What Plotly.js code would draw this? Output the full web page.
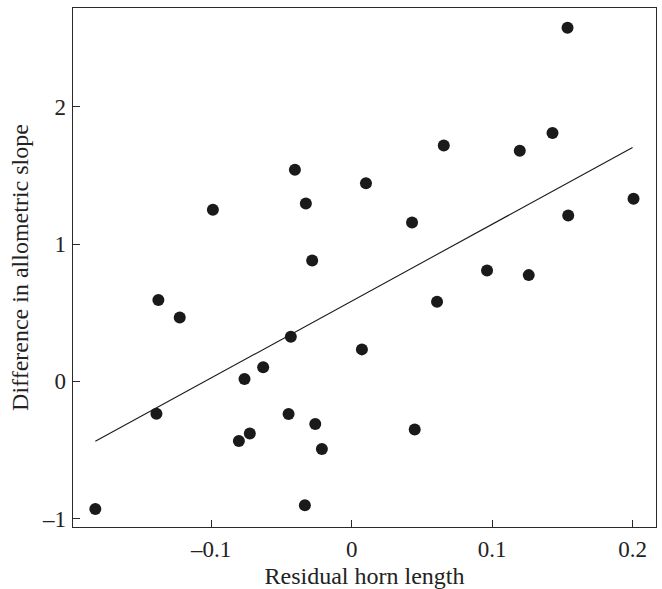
<!DOCTYPE html>
<html>
<head>
<meta charset="utf-8">
<script src="https://cdn.plot.ly/plotly-3.0.1.min.js"></script>
<style>html,body{margin:0;padding:0;background:#fff;}#chart{width:662px;height:589px;}</style>
</head>
<body>
<div id="chart"></div>
<script>
// Data
const hornLength = [-0.1825, -0.1390, -0.1376, -0.1224, -0.0988, -0.0803, -0.0725, -0.0763, -0.0630, -0.0433,
  -0.0449, -0.0404, -0.0326, -0.0281, -0.0259, -0.0212, -0.0333, 0.0073, 0.0102, 0.0430,
  0.0449, 0.0608, 0.0656, 0.0964, 0.1197, 0.1261, 0.1430, 0.1537, 0.1542, 0.2007];
const slopeDiff = [-0.930, -0.236, 0.592, 0.466, 1.250, -0.435, -0.379, 0.017, 0.102, 0.325,
  -0.238, 1.542, 1.296, 0.881, -0.311, -0.493, -0.903, 0.233, 1.444, 1.158,
  -0.350, 0.580, 1.719, 0.808, 1.680, 0.774, 1.809, 2.576, 1.209, 1.331];
const fitX = [-0.1825, 0.2];
const fitY = [-0.437, 1.704];
const xTicks = [-0.1, 0, 0.1, 0.2];
const xTickText = ['\u20130.1', '0', '0.1', '0.2'];
const yTicks = [-1, 0, 1, 2];
const yTickText = ['\u20131', '0', '1', '2'];

const font = 'Liberation Serif, Times New Roman, serif';
const traces = [
  {x: hornLength, y: slopeDiff, type: 'scatter', mode: 'markers',
   marker: {size: 12, color: '#1a1a1a'}, showlegend: false, hoverinfo: 'x+y'},
  {x: fitX, y: fitY, type: 'scatter', mode: 'lines',
   line: {color: '#1a1a1a', width: 1.1}, showlegend: false}
];
const axisCommon = {
  showgrid: false, zeroline: false, showline: true, linecolor: '#2a2a2a', linewidth: 1.3,
  mirror: true, ticks: 'inside', ticklen: 7, tickwidth: 1.1, tickcolor: '#2a2a2a',
  tickfont: {family: font, size: 23, color: '#222'}
};
const layout = {
  width: 662, height: 589,
  margin: {l: 73, r: 6, t: 8, b: 62},
  paper_bgcolor: '#fff', plot_bgcolor: '#fff',
  font: {family: font, color: '#222'},
  xaxis: Object.assign({}, axisCommon, {
    range: [-0.1984, 0.2167], tickmode: 'array', tickvals: xTicks, ticktext: xTickText,
    ticklabelstandoff: 1,
    title: {text: 'Residual horn length', font: {family: font, size: 24, color: '#222'}, standoff: 6}
  }),
  yaxis: Object.assign({}, axisCommon, {
    range: [-1.061, 2.720], tickmode: 'array', tickvals: yTicks, ticktext: yTickText,
    ticklabelstandoff: 1,
    title: {text: 'Difference in allometric slope', font: {family: font, size: 24, color: '#222'}, standoff: 6}
  })
};
Plotly.newPlot('chart', traces, layout, {displayModeBar: false, staticPlot: true});
</script>
</body>
</html>
